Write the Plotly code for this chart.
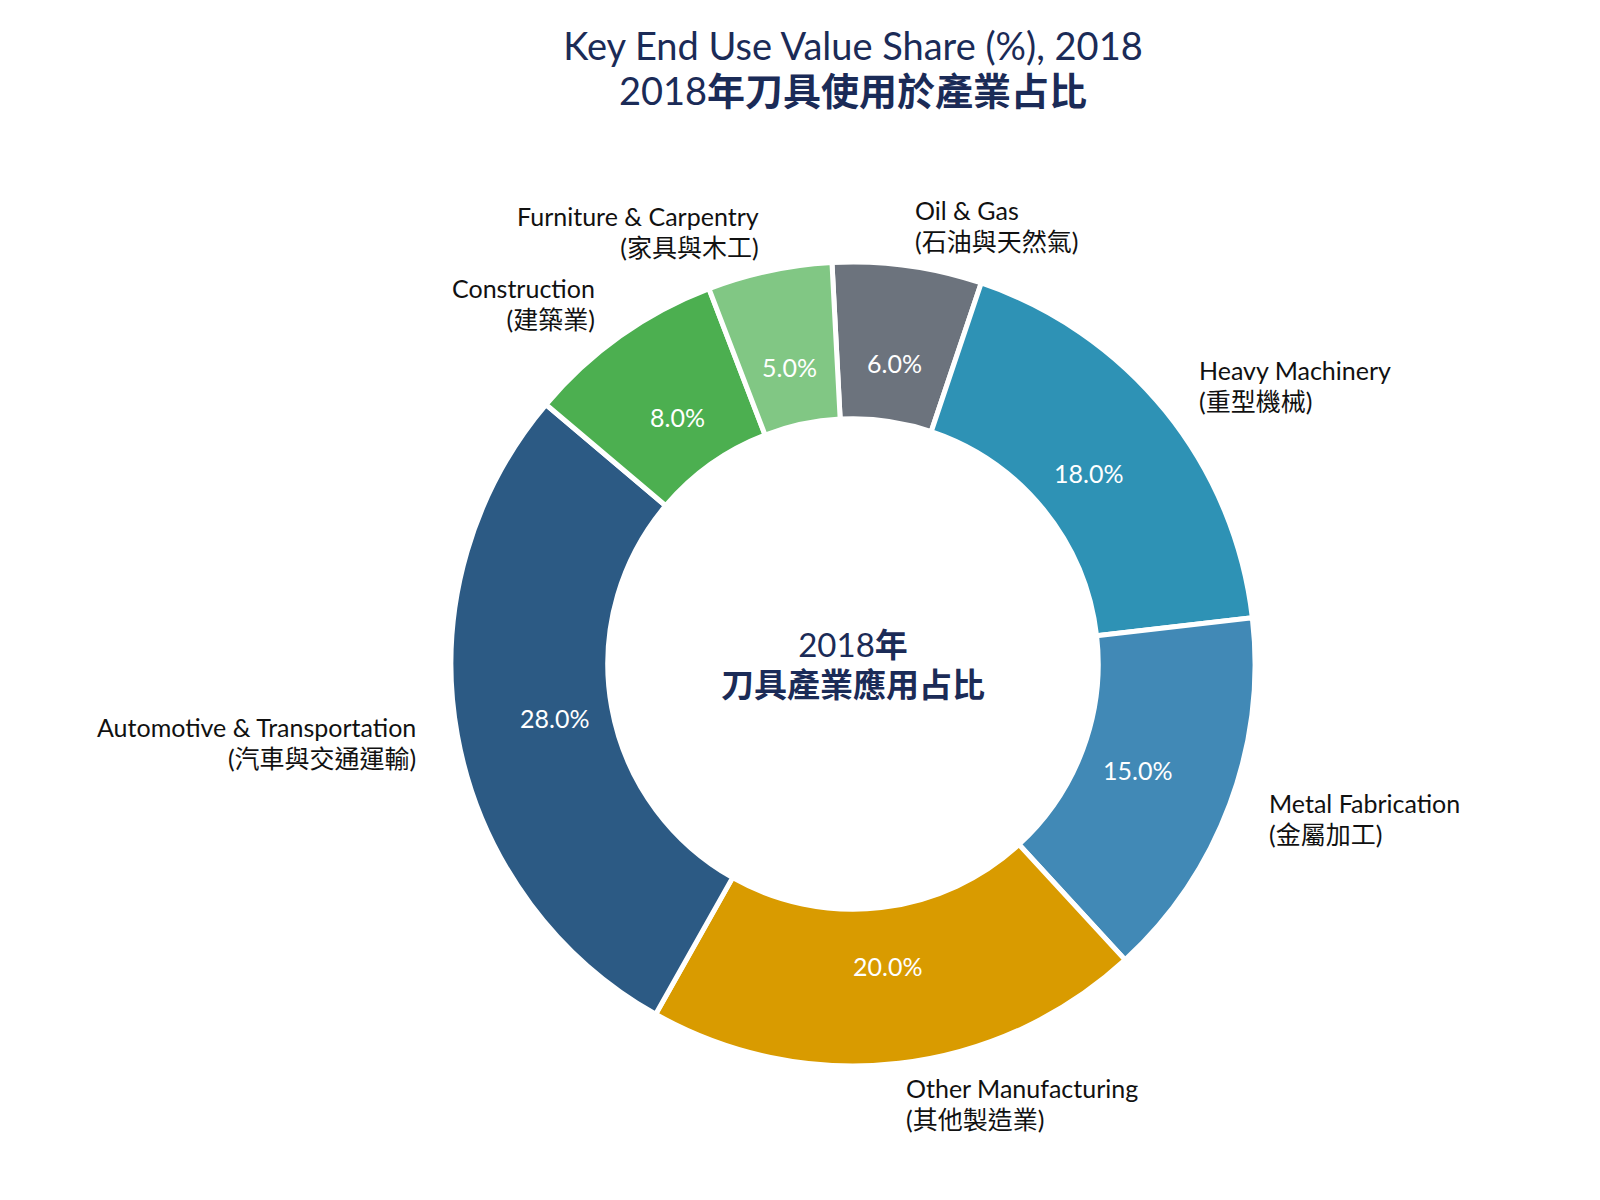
#donut chart of cutting tool end use share 2018, labels outside and percent inside

import numpy as np
import plotly.graph_objects as go

# Data (clockwise from 12 o'clock)
labels = [
    'Oil & Gas<br>(石油與天然氣)',
    'Heavy Machinery<br>(重型機械)',
    'Metal Fabrication<br>(金屬加工)',
    'Other Manufacturing<br>(其他製造業)',
    'Automotive & Transportation<br>(汽車與交通運輸)',
    'Construction<br>(建築業)',
    'Furniture & Carpentry<br>(家具與木工)',
]
shares = [6.0, 18.0, 15.0, 20.0, 28.0, 8.0, 5.0]
colors = ['#6C737D', '#2E92B5', '#4189B6', '#D99B00', '#2C5A84', '#4CAF50', '#81C784']

title_lines = ['Key End Use Value Share (%), 2018', '2018<b>年刀具使用於產業占比</b>']
center_lines = ['2018<b>年</b>', '<b>刀具產業應用占比</b>']

# Layout settings
W, H = 1600, 1200
cx, cy, R = 845, 656, 402          # pie centre and radius in pixels
rotation = -3                      # start angle of first slice (deg, clockwise from top)
hole = 0.61
pct_dist = 0.755
label_dist = 1.1
k = 1.15                           # text axes reach a bit beyond the ring
navy = '#1B2B57'
font_family = "Lato, 'Noto Sans CJK TC', sans-serif"


def sized(lines, px):
    # glyph size set on spans, so the outer font size only drives line spacing
    return '<br>'.join(f'<span style="font-size:{px}px">{s}</span>' for s in lines)


dom_x = [(cx - R) / W, (cx + R) / W]
dom_y = [1 - (cy + R) / H, 1 - (cy - R) / H]
ax_x = [(cx - k * R) / W, (cx + k * R) / W]
ax_y = [1 - (cy + k * R) / H, 1 - (cy - k * R) / H]

# slice mid angles, measured clockwise from the top
vals = np.array(shares)
mid = rotation + (np.cumsum(vals) - vals / 2) / vals.sum() * 360
rad = np.deg2rad(mid)

fig = go.Figure()

fig.add_trace(go.Pie(
    labels=labels,
    values=shares,
    hole=hole,
    sort=False,
    direction='clockwise',
    rotation=rotation,
    marker=dict(colors=colors, line=dict(color='white', width=5)),
    textinfo='none',
    domain=dict(x=dom_x, y=dom_y),
    showlegend=False,
    hovertemplate='%{label}<br>%{value:.1f}%<extra></extra>',
))

# invisible helper trace so the x/y axes exist for placing the texts
fig.add_trace(go.Scatter(x=[-1, 1], y=[-1, 1], mode='markers',
                         marker=dict(opacity=0), hoverinfo='skip', showlegend=False))

# percentages inside the ring
for v, a in zip(shares, rad):
    fig.add_annotation(
        x=pct_dist * np.sin(a), y=pct_dist * np.cos(a),
        xref='x', yref='y',
        text=f'{v:.1f}%',
        showarrow=False,
        font=dict(family=font_family, size=25, color='white'),
    )

# category labels outside the ring
for lab, a in zip(labels, rad):
    lx = label_dist * np.sin(a)
    ly = label_dist * np.cos(a)
    side = 'left' if lx > 0 else 'right'
    fig.add_annotation(
        x=lx, y=ly, xref='x', yref='y',
        text=sized(lab.split('<br>'), 25),
        showarrow=False,
        xanchor=side, yanchor='middle', align=side,
        font=dict(family=font_family, size=23.5, color='#111111'),
    )

fig.add_annotation(
    x=0, y=0, xref='x', yref='y',
    text=sized(center_lines, 33),
    showarrow=False,
    font=dict(family=font_family, size=31, color=navy),
)

fig.update_layout(
    width=W,
    height=H,
    margin=dict(l=0, r=0, t=0, b=0),
    paper_bgcolor='white',
    plot_bgcolor='white',
    title=dict(
        text=sized(title_lines, 38),
        x=cx / W, xanchor='center',
        y=0.957, yref='container', yanchor='top',
        font=dict(family=font_family, size=35, color=navy),
    ),
    xaxis=dict(domain=ax_x, range=[-k, k], visible=False, fixedrange=True),
    yaxis=dict(domain=ax_y, range=[-k, k], visible=False, fixedrange=True),
)

fig.write_html('out.html')
